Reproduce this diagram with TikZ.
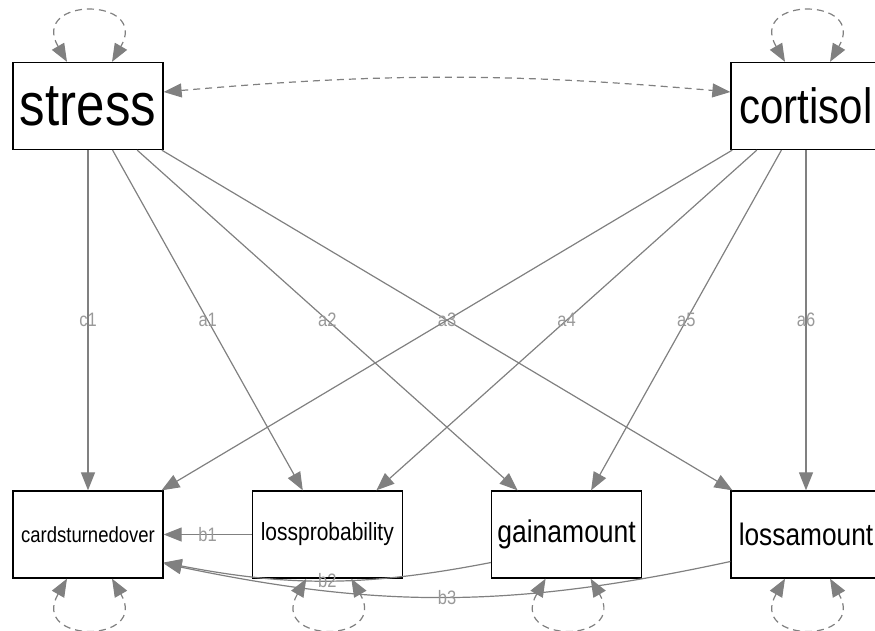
\documentclass[tikz,border=0pt]{standalone}
\usepackage{fontspec}
\setmainfont{Liberation Sans}
\usetikzlibrary{arrows.meta}

% text in the plot is drawn a little taller than wide
\newcommand{\vtext}[1]{\scalebox{1}[1.18]{#1}}

\begin{document}
\begin{tikzpicture}[
    x=1pt, y=1pt,
    varbox/.style={draw, line width=1.3pt, rectangle, minimum width=150pt,
                   minimum height=87pt, inner sep=0pt, text=black},
    regr/.style={-{Triangle[length=18pt, width=14pt]}, line width=1.2pt, gray},
    cov/.style={{Triangle[length=18pt, width=14pt]}-{Triangle[length=18pt, width=14pt]},
                line width=1.2pt, gray, dash pattern=on 7pt off 5pt},
    elab/.style={font=\fontsize{16.5}{16}\selectfont, text=gray!80}
]
    \useasboundingbox (0,0) rectangle (875,-630);

    % exogenous
    \node[varbox, font=\fontsize{51}{51}\selectfont] (st) at (88,-106) {\vtext{stress}};
    \node[varbox, font=\fontsize{42}{42}\selectfont] (co) at (806,-106) {\vtext{cortisol}};

    % outcomes
    \node[varbox, font=\fontsize{18.5}{18}\selectfont] (ct) at (88,-534.5) {\vtext{cardsturnedover}};
    \node[varbox, font=\fontsize{21}{21}\selectfont] (lp) at (327.3,-534.5) {\vtext{lossprobability}};
    \node[varbox, font=\fontsize{26.5}{26}\selectfont] (ga) at (566.6,-534.5) {\vtext{gainamount}};
    \node[varbox, font=\fontsize{26.3}{26}\selectfont] (la) at (806,-534.5) {\vtext{lossamount}};

    % regressions
    \draw[regr] (st) -- node[elab]{\vtext{c1}} (ct);
    \draw[regr] (st) -- node[elab]{\vtext{a1}} (lp);
    \draw[regr] (st) -- node[elab]{\vtext{a2}} (ga);
    \draw[regr] (st) -- node[elab]{\vtext{a3}} (la);
    \draw[regr] (co) -- (ct);
    \draw[regr] (co) -- node[elab]{\vtext{a4}} (lp);
    \draw[regr] (co) -- node[elab]{\vtext{a5}} (ga);
    \draw[regr] (co) -- node[elab]{\vtext{a6}} (la);
    \draw[regr] (lp) -- node[elab]{\vtext{b1}} (ct);
    \draw[regr] ([yshift=-28pt]ga.west) to[bend left=11] node[elab]{\vtext{b2}} ([yshift=-28pt]ct.east);
    \draw[regr] ([yshift=-27pt]la.west) to[bend left=12] node[elab]{\vtext{b3}} ([yshift=-29pt]ct.east);

    % covariance
    \draw[cov] ([yshift=14pt]st.east) to[bend left=5] ([yshift=14pt]co.west);

    % variances
    \foreach \v in {st, co}
        \draw[cov] ([xshift=-21pt]\v.north) to[out=120, in=60, looseness=4.3] ([xshift=24pt]\v.north);
    \foreach \v in {ct, lp, ga, la}
        \draw[cov] ([xshift=-21pt]\v.south) to[out=-120, in=-60, looseness=4.3] ([xshift=24pt]\v.south);
\end{tikzpicture}
\end{document}
